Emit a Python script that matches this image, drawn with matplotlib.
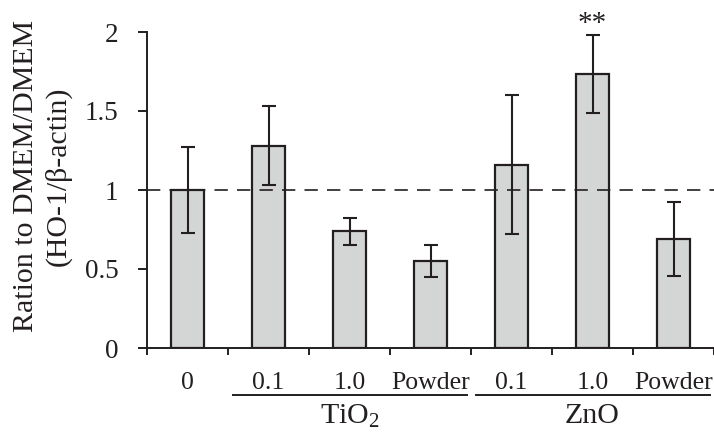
import matplotlib.pyplot as plt
from matplotlib.ticker import FixedLocator

plt.rcParams['font.family'] = ['Liberation Serif', 'DejaVu Serif']
plt.rcParams['mathtext.fontset'] = 'custom'
plt.rcParams['mathtext.rm'] = 'Liberation Serif'
plt.rcParams['mathtext.it'] = 'Liberation Serif:italic'

# data
labels = ['0', '0.1', '1.0', 'Powder', '0.1', '1.0', 'Powder']
values = [1.00, 1.28, 0.74, 0.55, 1.16, 1.735, 0.69]
errors = [0.27, 0.25, 0.085, 0.10, 0.44, 0.245, 0.235]
groups = [('TiO$_2$', 1, 3), ('ZnO', 4, 6)]
signif = {5: '**'}

BAR_FACE = '#d4d6d5'
DARK = '#231f20'

fig = plt.figure(figsize=(7.14, 4.34), dpi=100)
ax = fig.add_axes([147 / 714, 1 - 348 / 434, 567 / 714, 316 / 434])

x = list(range(len(values)))
ax.bar(x, values, width=0.4, color=BAR_FACE, edgecolor=DARK, linewidth=1.6, zorder=2)
ax.errorbar(x, values, yerr=errors, fmt='none', ecolor=DARK, elinewidth=1.5,
            capsize=5, capthick=1.5, zorder=3)
ax.axhline(1.0, color=DARK, linestyle=(0, (8, 5.5)), linewidth=1.2, zorder=4)

for i, s in signif.items():
    ax.text(i, values[i] + errors[i] - 0.01, s, ha='center', va='bottom',
            fontsize=21, color=DARK, clip_on=False)

ax.set_xlim(-0.5, len(values) - 0.5)
ax.set_ylim(0, 2)
ax.set_yticks([0, 0.5, 1, 1.5, 2])
ax.set_yticklabels(['0', '0.5', '1', '1.5', '2'])

# boundary ticks (major, unlabeled) and centred labels (minor)
ax.xaxis.set_major_locator(FixedLocator([i - 0.5 for i in range(len(values) + 1)]))
ax.set_xticklabels([])
ax.xaxis.set_minor_locator(FixedLocator(x))
ax.set_xticklabels(labels, minor=True)
ax.tick_params(axis='x', which='major', direction='out', length=5, width=1.4, color=DARK)
ax.tick_params(axis='x', which='minor', length=0, pad=17, labelsize=18.5, labelcolor=DARK)
ax.tick_params(axis='y', direction='out', length=6.5, width=1.4, color=DARK,
               pad=14, labelsize=19.5, labelcolor=DARK)

for side in ['top', 'right']:
    ax.spines[side].set_visible(False)
for side in ['left', 'bottom']:
    ax.spines[side].set_linewidth(1.4)
    ax.spines[side].set_color(DARK)

ax.set_ylabel('Ration to DMEM/DMEM\n(HO-1/\u03b2-actin)', fontsize=21.5,
              color=DARK, linespacing=1.3)
ax.yaxis.set_label_coords(-0.132, 0.544)

# group underlines and names
trans = ax.get_xaxis_transform()
for name, a, b in groups:
    ax.plot([a - 0.44, b + 0.45], [-0.149, -0.149], color=DARK, linewidth=1.4,
            transform=trans, clip_on=False)
    ax.text((a + b) / 2, -0.215, name, ha='center', va='center', fontsize=21.5,
            color=DARK, transform=trans)

fig.savefig('out.png', dpi=100)
